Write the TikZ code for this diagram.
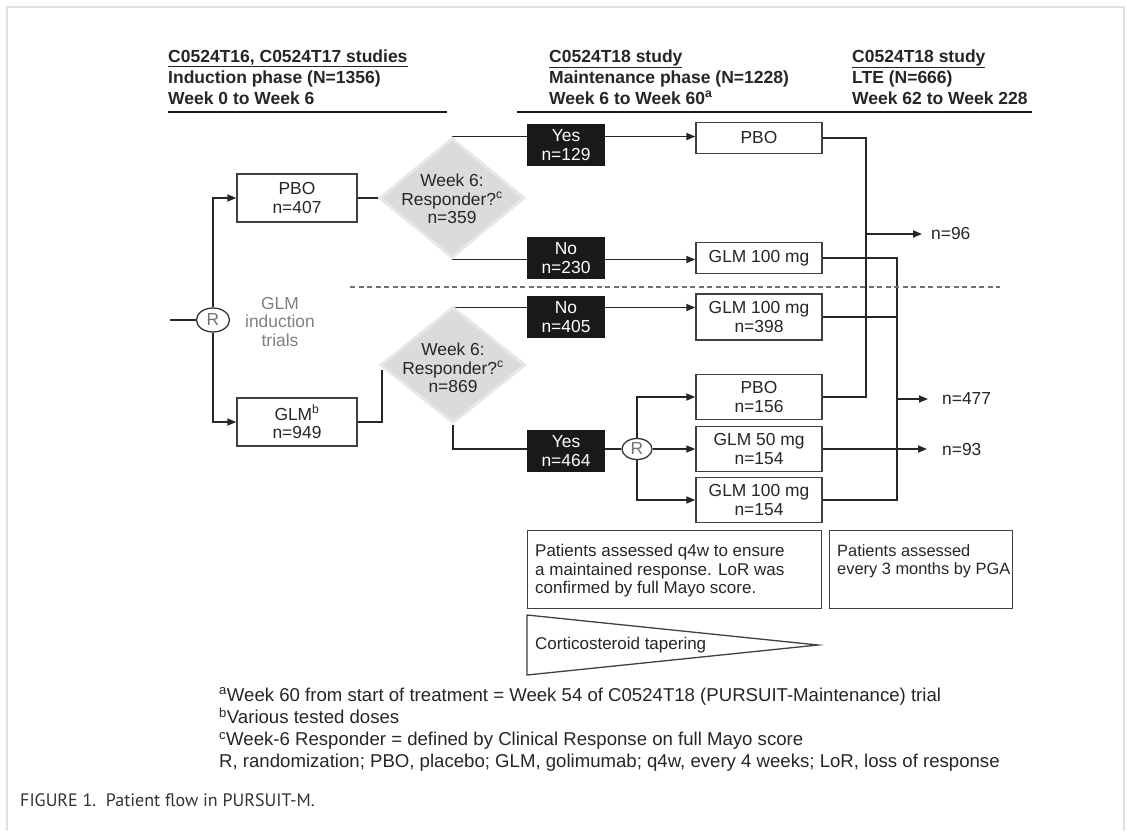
\documentclass[tikz,border=0pt]{standalone}
\usepackage{fontspec}
\setmainfont{Liberation Sans}
\newfontfamily\capfont{PT Sans}
\usetikzlibrary{shapes.geometric,arrows.meta,calc}
\pgfdeclarelayer{bg}
\pgfsetlayers{bg,main}
\newcommand\bxf{\fontsize{17.4}{18.5}\selectfont}
\newcommand\ntf{\fontsize{17}{18.5}\selectfont}
\newcommand\hdf{\fontsize{17.5}{21}\selectfont\bfseries}
\newcommand\fnf{\fontsize{18.6}{22}\selectfont}
\begin{document}
\begin{tikzpicture}[x=1pt,y=-1pt,
  every node/.style={text=black!85},
  conn/.style={draw=black!85, line width=1.7pt},
  arr/.style={conn, -{Triangle[length=9pt,width=7pt]}},
  box/.style={draw=black!75, line width=1.4pt, fill=white, align=center,
    inner sep=0pt, minimum width=126pt, font=\bxf},
  blk/.style={fill=black!90, text=white, align=center, inner sep=0pt,
    minimum width=78pt, minimum height=42pt, font=\bxf},
  dia/.style={diamond, fill=black!14, draw=black!9, line width=3pt,
    inner sep=0pt, minimum width=145pt, minimum height=120pt},
  dtext/.style={align=center, font=\bxf, text=black!85},
  rnd/.style={ellipse, draw=black!80, line width=1.3pt, fill=white,
    inner sep=0pt, font=\bxf, text=black!55},
  hdr/.style={anchor=base west, inner sep=0pt, font=\hdf},
  fn/.style={anchor=base west, inner sep=0pt, font=\fnf},
  lbl/.style={anchor=west, inner sep=0pt, font=\bxf},
  notebox/.style={draw=black!75, line width=1.2pt, fill=white,
    anchor=north west, inner sep=0pt, minimum height=78pt},
  notetext/.style={anchor=north west, align=left, inner sep=0pt, font=\ntf},
]
\useasboundingbox (0,0) rectangle (1132,831);
\begin{pgfonlayer}{bg}
\fill[white] (0,0) rectangle (1132,831);
\end{pgfonlayer}
% page frame
\draw[black!12, line width=2pt] (7,831) -- (7,7) -- (1124,7) -- (1124,831);

% column headers
\node[hdr] (h1a) at (168,62) {\underline{C0524T16, C0524T17 studies}};
\node[hdr] (h1b) at (168,83) {Induction phase (N=1356)};
\node[hdr] (h1c) at (168,104) {Week 0 to Week 6};
\node[hdr] (h2a) at (549,62) {\underline{C0524T18 study}};
\node[hdr] (h2b) at (549,83) {Maintenance phase (N=1228)};
\node[hdr] (h2c) at (549,104) {Week 6 to Week 60\textsuperscript{a}};
\node[hdr] (h3a) at (852,62) {\underline{C0524T18 study}};
\node[hdr] (h3b) at (852,83) {LTE (N=666)};
\node[hdr] (h3c) at (852,104) {Week 62 to Week 228};
\draw[black!90, line width=2pt] (168,112) -- (447,112);
\draw[black!90, line width=2pt] (517,112) -- (1032,112);

% induction randomisation
\coordinate (start) at (170,320);
\node[rnd, minimum width=33pt, minimum height=24pt] (R1) at (213,320) {R};
\node[align=center, font=\bxf, text=black!50] (glmind) at (280,322)
  {GLM\\induction\\trials};
\node[box, minimum height=48pt, minimum width=120pt] (pboI) at (297,198) {PBO\\n=407};
\node[box, minimum height=48pt, minimum width=120pt] (glmI) at (297,422)
  {GLM\textsuperscript{b}\\n=949};

% week-6 decisions
\node[dia] (d1) at (452,198) {};
\node[dtext] (d1t) at (452,199) {Week 6:\\Responder?\textsuperscript{c}\\n=359};
\node[dia, minimum height=116pt] (d2) at (453,365) {};
\node[dtext] (d2t) at (453,368) {Week 6:\\Responder?\textsuperscript{c}\\n=869};

% maintenance branches
\node[blk] (yes1) at (566,145) {Yes\\n=129};
\node[blk] (no1) at (566,258) {No\\n=230};
\node[blk] (no2) at (566,317) {No\\n=405};
\node[blk] (yes2) at (566,451) {Yes\\n=464};
\node[rnd, minimum width=30pt, minimum height=21pt] (R2) at (637,449) {R};

\node[box, minimum height=31pt] (pboM) at (759,138) {PBO};
\node[box, minimum height=31pt] (glm100a) at (759,258) {GLM 100 mg};
\node[box, minimum height=46pt] (glm100b) at (759,317) {GLM 100 mg\\n=398};
\node[box, minimum height=45pt] (pbo156) at (759,397) {PBO\\n=156};
\node[box, minimum height=45pt] (glm50) at (759,449) {GLM 50 mg\\n=154};
\node[box, minimum height=45pt] (glm100c) at (759,500) {GLM 100 mg\\n=154};

% long-term extension totals
\coordinate (busA) at (866,234);
\coordinate (busB) at (897,399);
\node[lbl] (n96) at (931,234) {n=96};
\node[lbl] (n477) at (942,399) {n=477};
\node[lbl] (n93) at (942,449) {n=93};

% assessment notes
\node[notebox, minimum width=294pt] (note1) at (527,530) {};
\node[notetext] (note1t) at (535,544)
  {Patients assessed q4w to ensure\\a maintained response. LoR was\\confirmed by full Mayo score.};
\node[notebox, minimum width=183pt] (note2) at (829,530) {};
\node[notetext, font=\fontsize{16.4}{18.5}\selectfont] (note2t) at (837,544)
  {Patients assessed\\every 3 months by PGA};

% steroid taper wedge
\draw[black!75, line width=1.3pt, fill=white] (527,615) -- (818,645) -- (527,675) -- cycle;
\node[anchor=west, inner sep=0pt, font=\ntf] (taper) at (535,645) {Corticosteroid tapering};

% connectors
\begin{pgfonlayer}{bg}
\draw[conn] (start) -- (R1.west);
\draw[arr] (R1.north) |- (pboI.west);
\draw[arr] (R1.south) |- (glmI.west);
\draw[conn] (pboI.east) -- (d1.west);
\draw[conn] (glmI.east) -| ($(d2.west)+(3,5)$);
\draw[arr] (d1.north) -- (d1.north -| pboM.west);
\draw[arr] (d1.south) -- (d1.south -| glm100a.west);
\draw[arr] ([yshift=-2pt]d2.north) -- ([yshift=-2pt]d2.north -| glm100b.west);
\draw[conn] (d2.south) |- (R2.west);
\draw[arr] (R2.north) |- (pbo156.west);
\draw[arr] (R2.east) -- (R2.east -| glm50.west);
\draw[arr] (R2.south) |- (glm100c.west);
\draw[conn] (pboM.east) -| (busA) |- (pbo156.east);
\draw[arr, shorten >=9pt] (busA) -- (n96.west);
\draw[conn] (glm100a.east) -| (busB) |- (glm100c.east);
\draw[conn] (glm100b.east) -- (glm100b.east -| busB);
\draw[arr, shorten >=14pt] (busB) -- (n477.west);
\draw[arr, shorten >=15pt] (glm50.east) -- (n93.west);
\draw[black!55, line width=1.2pt, dash pattern=on 5pt off 3.5pt] (350,287) -- (1000,287);
\end{pgfonlayer}

% footnotes
\node[fn] (fa) at (219,701) {\textsuperscript{a}Week 60 from start of treatment = Week 54 of C0524T18 (PURSUIT-Maintenance) trial};
\node[fn] (fb) at (219,723.5) {\textsuperscript{b}Various tested doses};
\node[fn] (fc) at (219,745.5) {\textsuperscript{c}Week-6 Responder = defined by Clinical Response on full Mayo score};
\node[fn] (fd) at (219,767.5) {R, randomization; PBO, placebo; GLM, golimumab; q4w, every 4 weeks; LoR, loss of response};

% caption
\node[anchor=base west, inner sep=0pt, text=black!80, font=\capfont\fontsize{18}{20}\selectfont]
  (cap) at (20,806) {FIGURE 1.\ \ Patient flow in PURSUIT-M.};
\end{tikzpicture}
\end{document}
